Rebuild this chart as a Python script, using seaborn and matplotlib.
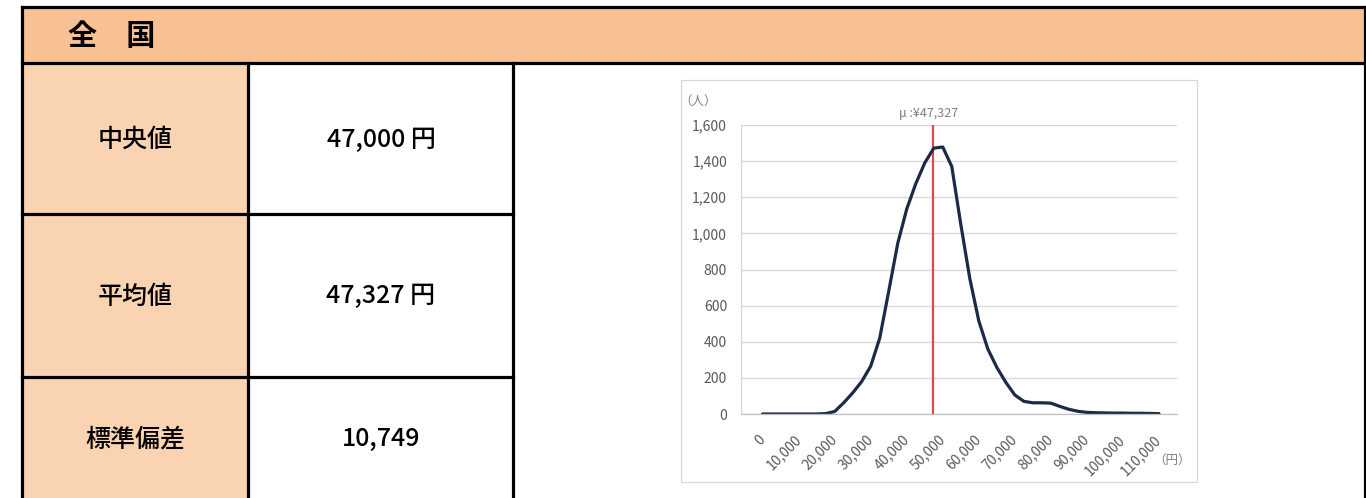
import matplotlib
matplotlib.use("Agg")
import matplotlib.pyplot as plt
import seaborn as sns
import pandas as pd
from matplotlib.patches import Rectangle
from matplotlib.lines import Line2D
from matplotlib.ticker import FixedLocator

# ---------------- data ----------------
header_title = "全　国"
row_labels = ["中央値", "平均値", "標準偏差"]
row_values = ["47,000 円", "47,327 円", "10,749"]

# values every 2,500 yen
income = [0, 2500, 5000, 7500, 10000, 12500, 15000, 17500, 20000, 22500,
          25000, 27500, 30000, 32500, 35000, 37500, 40000, 42500, 45000, 47500,
          50000, 52500, 55000, 57500, 60000, 62500, 65000, 67500, 70000, 72500,
          75000, 77500, 80000, 82500, 85000, 87500, 90000, 92500, 95000, 97500,
          100000, 102500, 105000, 107500, 110000]
people = [0, 0, 0, 0, 0, 0, 0, 2, 14, 62,
          117, 180, 265, 420, 680, 945, 1135, 1275, 1390, 1472,
          1478, 1370, 1050, 750, 515, 360, 258, 175, 105, 70,
          62, 62, 60, 42, 26, 15, 9, 7, 6, 5,
          5, 4, 4, 3, 2]
mean_value = 47327
mean_label = "μ :¥47,327"
x_ticks = [0, 10000, 20000, 30000, 40000, 50000, 60000, 70000, 80000,
           90000, 100000, 110000]
y_ticks = [0, 200, 400, 600, 800, 1000, 1200, 1400, 1600]
y_unit = "（人）"
x_unit = "（円）"

# ---------------- style ----------------
sns.set_style("white")
plt.rcParams['font.family'] = ['Noto Sans CJK JP', 'DejaVu Sans']

W, H = 1366, 498
fig = plt.figure(figsize=(W / 100, H / 100), dpi=100)
fig.patch.set_facecolor("white")


def fx(x):
    return x / W


def fy(y):
    return 1 - y / H


def rect(x0, y0, x1, y1, **kw):
    fig.add_artist(Rectangle((fx(x0), fy(y1)), fx(x1) - fx(x0), fy(y0) - fy(y1),
                             transform=fig.transFigure, zorder=-2, **kw))


def line(x0, y0, x1, y1, lw=2.3, color="black"):
    fig.add_artist(Line2D([fx(x0), fx(x1)], [fy(y0), fy(y1)], transform=fig.transFigure,
                          color=color, lw=lw, solid_capstyle="projecting", zorder=-1))


header_color = "#f8c194"
label_color = "#fad4b2"

# table backgrounds
rect(22, 7, 1365, 63, facecolor=header_color, edgecolor="none")
row_edges = [63, 214, 377, 499]
for i in range(3):
    rect(22, row_edges[i], 248, row_edges[i + 1], facecolor=label_color, edgecolor="none")

# table lines
line(22, 7, 1365, 7)
line(22, 63, 1365, 63)
line(22, 7, 22, 498)
line(1365, 7, 1365, 498)
line(248, 63, 248, 498)
line(513, 63, 513, 498)
line(22, 214, 513, 214)
line(22, 377, 513, 377)

# table texts
fig.text(fx(68), fy(36), header_title, fontsize=21, fontweight="bold",
         ha="left", va="center", color="black")
for i in range(3):
    yc = (row_edges[i] + row_edges[i + 1]) / 2 + 1
    fig.text(fx(135), fy(yc), row_labels[i], fontsize=18, ha="center", va="center",
             color="black", fontweight="medium")
    fig.text(fx(381), fy(yc), row_values[i], fontsize=18, ha="center", va="center",
             color="black", fontweight="medium")

# chart frame
rect(681, 80, 1197, 482, facecolor="white", edgecolor="#d9d9d9", lw=0.9)

# ---------------- chart ----------------
ax_l, ax_r, ax_t, ax_b = 741, 1177, 125, 414
ax = fig.add_axes([fx(ax_l), fy(ax_b), fx(ax_r) - fx(ax_l), fy(ax_t) - fy(ax_b)])
ax.set_zorder(5)
ax.set_facecolor("none")

df = pd.DataFrame({"income": income, "people": people})
sns.lineplot(data=df, x="income", y="people", ax=ax, color="#1c2a48", linewidth=2.3)
ax.lines[-1].set_solid_joinstyle("round")
ax.axvline(mean_value, color="#e0474c", lw=1.6, zorder=1)

ax.set_xlim(-6000, 115000)
ax.set_ylim(0, 1600)
ax.set_xlabel("")
ax.set_ylabel("")

ax.yaxis.set_major_locator(FixedLocator(y_ticks))
ax.set_yticklabels([f"{v:,}" for v in y_ticks])
ax.xaxis.set_major_locator(FixedLocator(x_ticks))
ax.set_xticklabels([f"{v:,}" for v in x_ticks], rotation=45, ha="right",
                   va="center", rotation_mode="anchor")
ax.xaxis.set_minor_locator(FixedLocator([115000]))

ax.grid(axis="y", color="#d9d9d9", lw=1.0)
ax.set_axisbelow(True)
for s in ["top", "right"]:
    ax.spines[s].set_visible(False)
ax.spines["left"].set_color("#d9d9d9")
ax.spines["bottom"].set_color("#bfbfbf")
ax.spines["left"].set_linewidth(0.9)
ax.spines["bottom"].set_linewidth(0.9)

ax.tick_params(axis="y", length=3, color="#d9d9d9", labelsize=10, labelcolor="#595959", pad=7)
ax.tick_params(axis="x", which="both", direction="inout", length=6, color="#bfbfbf",
               labelsize=10, labelcolor="#595959", pad=14)

fig.text(fx(929), fy(113), mean_label, fontsize=9, ha="center", va="center", color="#7f7f7f")
fig.text(fx(698), fy(101), y_unit, fontsize=9, ha="center", va="center", color="#7f7f7f")
fig.text(fx(1172), fy(460), x_unit, fontsize=9, ha="center", va="center", color="#7f7f7f")

fig.savefig("out.png", dpi=100, facecolor="white")
